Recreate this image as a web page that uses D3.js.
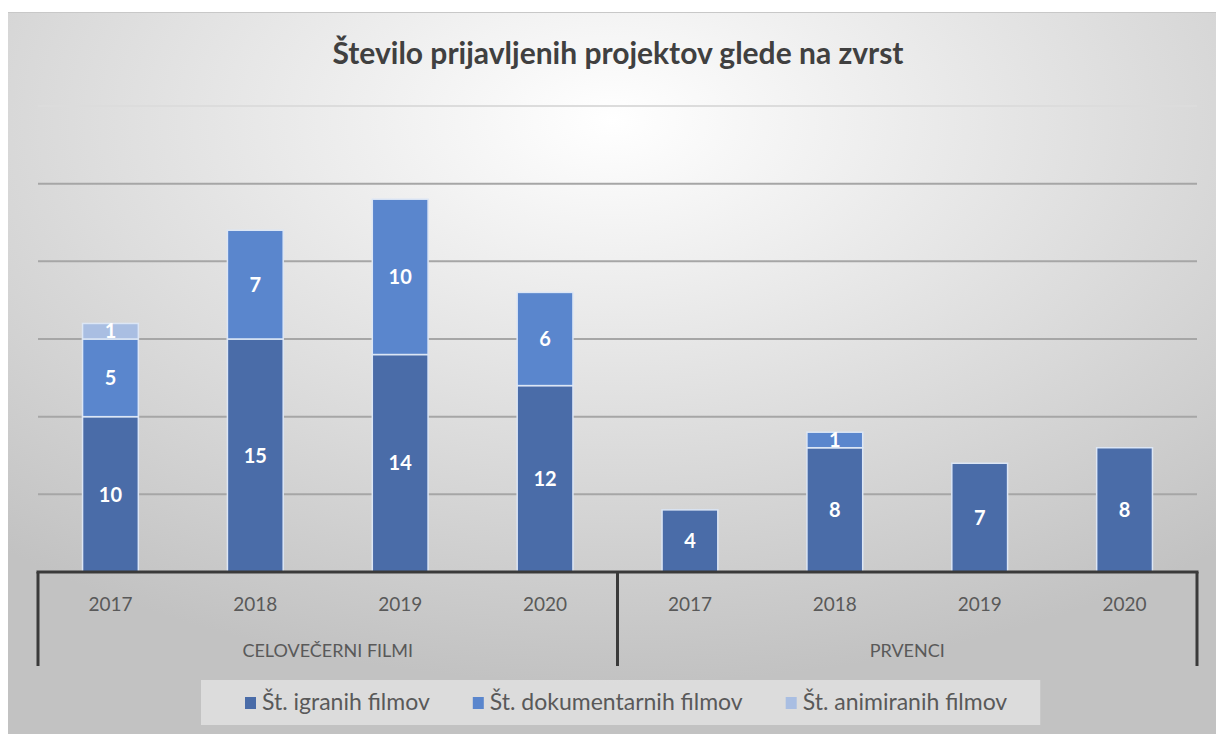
<!DOCTYPE html>
<html>
<head>
<meta charset="utf-8">
<script src="https://cdn.jsdelivr.net/npm/d3@7"></script>
<style>
  body { margin: 0; background: #fff; }
  svg { display: block; font-family: Lato, "Open Sans", sans-serif; }
</style>
</head>
<body>
<svg id="chart" width="1216" height="734"></svg>
<script>
var groups = ['CELOVEČERNI FILMI', 'PRVENCI'];
var years = ['2017', '2018', '2019', '2020'];
var seriesNames = ['Št. igranih filmov', 'Št. dokumentarnih filmov', 'Št. animiranih filmov'];
var igrani = [10, 15, 14, 12, 4, 8, 7, 8];
var dokumentarni = [5, 7, 10, 6, 0, 1, 0, 0];
var animirani = [1, 0, 0, 0, 0, 0, 0, 0];
var yTicks = [5, 10, 15, 20, 25, 30];
var colors = ['#4a6ca8', '#5a86cd', '#a9bee2'];

var svg = d3.select('#chart');
var W = 1216, H = 734;
var margin = {left: 38, right: 19, top: 106};
var plotBottom = 572;

// background card
var defs = svg.append('defs');
var grad = defs.append('radialGradient')
    .attr('id', 'bg')
    .attr('cx', '50%').attr('cy', '15%').attr('r', '78%');
grad.append('stop').attr('offset', '0%').attr('stop-color', '#ffffff');
grad.append('stop').attr('offset', '100%').attr('stop-color', '#c2c2c2');

svg.append('rect')
    .attr('x', 8).attr('y', 12)
    .attr('width', 1208).attr('height', H - 12)
    .attr('fill', 'url(#bg)');
svg.append('line')
    .attr('x1', 8).attr('x2', W)
    .attr('y1', 12.5).attr('y2', 12.5)
    .attr('stroke', '#c8c8c8').attr('stroke-width', 1);

svg.append('text')
    .attr('x', 618).attr('y', 64)
    .attr('text-anchor', 'middle')
    .attr('font-size', 30)
    .attr('font-weight', 'bold')
    .attr('fill', '#404040')
    .text('Število prijavljenih projektov glede na zvrst');

// categories: group|year
var cats = [];
groups.forEach(function(g) {
  years.forEach(function(y) { cats.push(g + '|' + y); });
});

var x = d3.scaleBand()
    .domain(cats)
    .range([margin.left, W - margin.right])
    .paddingInner(0.615)
    .paddingOuter(0.3075);

var y = d3.scaleLinear()
    .domain([0, 30])
    .range([plotBottom, margin.top]);

// gridlines
svg.append('g')
    .selectAll('line')
    .data(yTicks)
    .enter().append('line')
    .attr('x1', margin.left).attr('x2', W - margin.right)
    .attr('y1', function(d) { return y(d); })
    .attr('y2', function(d) { return y(d); })
    .attr('stroke', function(d) { return d === 30 ? '#dcdcdc' : '#a6a6a6'; })
    .attr('stroke-width', 2);

var rows = cats.map(function(c, i) {
  return {cat: c, igrani: igrani[i], dokumentarni: dokumentarni[i], animirani: animirani[i]};
});
var stack = d3.stack().keys(['igrani', 'dokumentarni', 'animirani']);
var layers = stack(rows);

var layer = svg.append('g').selectAll('g')
    .data(layers)
    .enter().append('g')
    .attr('fill', function(d, i) { return colors[i]; });

layer.selectAll('rect')
    .data(function(d) { return d.filter(function(p) { return p[1] > p[0]; }); })
    .enter().append('rect')
    .attr('x', function(d) { return x(d.data.cat); })
    .attr('width', x.bandwidth())
    .attr('y', function(d) { return y(d[1]); })
    .attr('height', function(d) { return y(d[0]) - y(d[1]); })
    .attr('stroke', '#dce6f5')
    .attr('stroke-width', 1.5);

layer.selectAll('text')
    .data(function(d) { return d.filter(function(p) { return p[1] > p[0]; }); })
    .enter().append('text')
    .attr('x', function(d) { return x(d.data.cat) + x.bandwidth() / 2; })
    .attr('y', function(d) { return (y(d[0]) + y(d[1])) / 2; })
    .attr('dy', '0.36em')
    .attr('text-anchor', 'middle')
    .attr('font-size', 20)
    .attr('font-weight', 'bold')
    .attr('fill', '#ffffff')
    .text(function(d) { return d[1] - d[0]; });

// axis
var axis = svg.append('g');
axis.append('line')
    .attr('x1', margin.left - 1.5).attr('x2', W - margin.right + 1.5)
    .attr('y1', plotBottom).attr('y2', plotBottom)
    .attr('stroke', '#3a3a3a').attr('stroke-width', 3);

var step = x.step();
var sepX = [margin.left, margin.left + step * 4, W - margin.right];
axis.selectAll('.sep')
    .data(sepX)
    .enter().append('line')
    .attr('x1', function(d) { return d; }).attr('x2', function(d) { return d; })
    .attr('y1', plotBottom).attr('y2', 666)
    .attr('stroke', '#3a3a3a').attr('stroke-width', 3);

axis.selectAll('.year')
    .data(cats)
    .enter().append('text')
    .attr('x', function(d) { return x(d) + x.bandwidth() / 2; })
    .attr('y', 611)
    .attr('text-anchor', 'middle')
    .attr('font-size', 19)
    .attr('fill', '#595959')
    .text(function(d) { return d.split('|')[1]; });

axis.selectAll('.group')
    .data(groups)
    .enter().append('text')
    .attr('x', function(d, i) { return (sepX[i] + sepX[i + 1]) / 2; })
    .attr('y', 657)
    .attr('text-anchor', 'middle')
    .attr('font-size', 18)
    .attr('fill', '#595959')
    .text(function(d) { return d; });

// legend
var legend = svg.append('g');
var legendBox = legend.append('rect')
    .attr('y', 680)
    .attr('height', 45)
    .attr('fill', '#f2f2f2').attr('fill-opacity', 0.55);

var lx = 245;
seriesNames.forEach(function(name, i) {
  legend.append('rect')
      .attr('x', lx).attr('y', 697)
      .attr('width', 11).attr('height', 12)
      .attr('fill', colors[i]);
  var t = legend.append('text')
      .attr('x', lx + 17).attr('y', 710)
      .attr('font-size', 23)
      .attr('fill', '#595959')
      .text(name);
  lx += 17 + t.node().getComputedTextLength() + 43;
});
legendBox
    .attr('x', 201)
    .attr('width', lx - 43 + 33 - 201);
</script>
</body>
</html>
